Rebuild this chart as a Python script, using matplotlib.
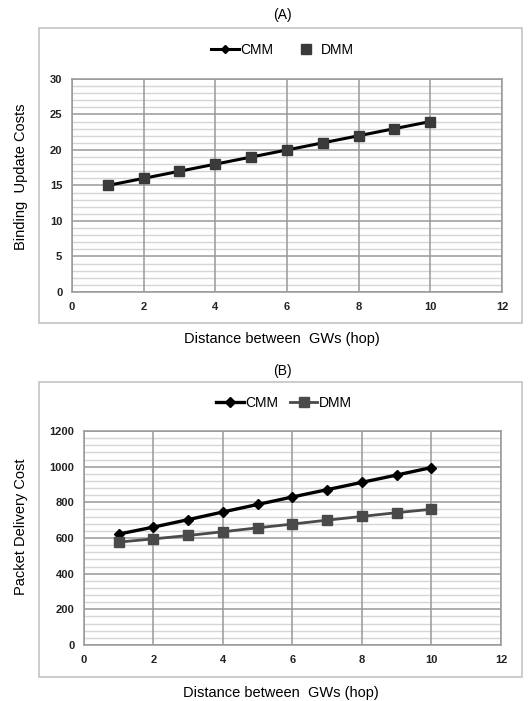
import matplotlib
matplotlib.use("Agg")
import matplotlib.pyplot as plt
from matplotlib.patches import Rectangle
from matplotlib.ticker import MultipleLocator

hops = [1, 2, 3, 4, 5, 6, 7, 8, 9, 10]

# (A) binding update costs, both schemes overlap
bu_cmm = [15, 16, 17, 18, 19, 20, 21, 22, 23, 24]
bu_dmm = [15, 16, 17, 18, 19, 20, 21, 22, 23, 24]

# (B) packet delivery cost
pd_cmm = [622, 661, 703, 746, 788, 830, 871, 912, 953, 995]
pd_dmm = [577, 595, 614, 635, 657, 678, 700, 721, 742, 761]

plt.rcParams['font.family'] = ['Liberation Sans', 'DejaVu Sans']

fig = plt.figure(figsize=(5.32, 7.01), dpi=100)

# light outer frames around each chart
for y0 in (0.5392, 0.0342):
    fig.patches.append(Rectangle((0.0733, y0), 0.9079, 0.4208, transform=fig.transFigure,
                                 fill=False, edgecolor='#c4c4c4', linewidth=1.2))

axA = fig.add_axes([0.1353, 0.5835, 0.8083, 0.3039])
axB = fig.add_axes([0.1579, 0.0799, 0.7838, 0.3053])


def style(ax, ymax, ystep, yminor):
    ax.set_xlim(0, 12)
    ax.set_ylim(0, ymax)
    ax.xaxis.set_major_locator(MultipleLocator(2))
    ax.yaxis.set_major_locator(MultipleLocator(ystep))
    ax.yaxis.set_minor_locator(MultipleLocator(yminor))
    ax.grid(which='minor', axis='y', color='#d6d6d6', linewidth=1.0)
    ax.grid(which='major', axis='y', color='#999999', linewidth=1.1)
    # vertical lines drawn separately so the minor lines don't cut them
    for xv in ax.get_xticks():
        ax.axvline(xv, color='#999999', linewidth=1.1, zorder=1)
    ax.set_axisbelow(True)
    for s in ax.spines.values():
        s.set_color('#999999')
        s.set_linewidth(1.1)
    ax.tick_params(which='both', length=0)
    ax.tick_params(axis='y', pad=7)
    ax.tick_params(axis='x', pad=7)
    for t in ax.get_xticklabels() + ax.get_yticklabels():
        t.set_fontweight('bold')
        t.set_fontsize(8)
        t.set_color('#222222')


# chart A
axA.plot(hops, bu_cmm, color='black', linewidth=2.2, marker='D', markersize=4, label='CMM')
axA.plot(hops, bu_dmm, linestyle='none', marker='s', markersize=7, color='#3a3a3a', label='DMM')
style(axA, 30, 5, 1)
axA.legend(loc='center', bbox_to_anchor=(0.49, 1.136), ncol=2, frameon=False,
           fontsize=10, handlelength=2.0, handletextpad=0.1, columnspacing=1.3)
axA.set_ylabel('Binding  Update Costs', fontsize=10.5)
axA.yaxis.set_label_coords(-0.102, 0.542)
axA.set_xlabel('Distance between  GWs (hop)', fontsize=10.5)
axA.xaxis.set_label_coords(0.487, -0.19)

# chart B
axB.plot(hops, pd_cmm, color='black', linewidth=2.4, marker='D', markersize=5, label='CMM')
axB.plot(hops, pd_dmm, color='#4a4a4a', linewidth=2.0, marker='s', markersize=7, label='DMM')
style(axB, 1200, 200, 40)
axB.legend(loc='center', bbox_to_anchor=(0.48, 1.131), ncol=2, frameon=False,
           fontsize=10, handlelength=2.0, handletextpad=0.1, columnspacing=0.8)
axB.set_ylabel('Packet Delivery Cost', fontsize=10.5)
axB.yaxis.set_label_coords(-0.134, 0.551)
axB.set_xlabel('Distance between  GWs (hop)', fontsize=10.5)
axB.xaxis.set_label_coords(0.472, -0.19)

fig.text(0.53, 0.979, '(A)', ha='center', va='center', fontsize=10)
fig.text(0.53, 0.471, '(B)', ha='center', va='center', fontsize=10)

fig.savefig('out.png', dpi=100)
